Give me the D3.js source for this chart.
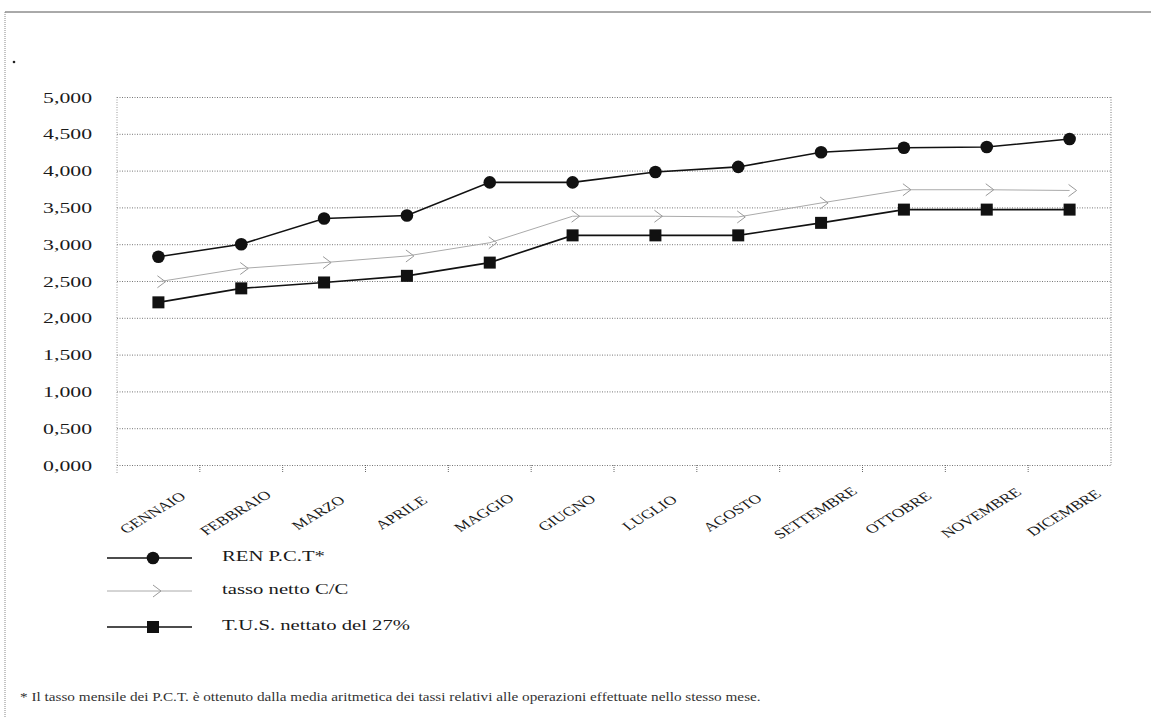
<html>
<head>
  <script src="https://unpkg.com/d3@7/dist/d3.min.js"></script>
  <style>
    body { margin: 0; background: #fff; }
    text { font-family: "Liberation Serif", "DejaVu Serif", serif; fill: #1a1a1a; }
  </style>
</head>
<body>
  <svg id="container" width="1151" height="717"></svg>
</body>

<script>
    const months = ['GENNAIO', 'FEBBRAIO', 'MARZO', 'APRILE', 'MAGGIO', 'GIUGNO',
                    'LUGLIO', 'AGOSTO', 'SETTEMBRE', 'OTTOBRE', 'NOVEMBRE', 'DICEMBRE'];
    const renPct = [2.83, 3.00, 3.35, 3.39, 3.84, 3.84, 3.98, 4.05, 4.25, 4.31, 4.32, 4.43];
    const tassoNetto = [2.49, 2.67, 2.75, 2.84, 3.02, 3.38, 3.38, 3.37, 3.56, 3.74, 3.74, 3.73];
    const tusNettato = [2.21, 2.40, 2.48, 2.57, 2.75, 3.12, 3.12, 3.12, 3.29, 3.47, 3.47, 3.47];
    const yTicks = [0, 0.5, 1, 1.5, 2, 2.5, 3, 3.5, 4, 4.5, 5];
    const seriesNames = ['REN P.C.T*', 'tasso netto C/C', 'T.U.S. nettato del 27%'];
    const footnote = '* Il tasso mensile dei P.C.T. è ottenuto dalla media aritmetica dei tassi relativi alle operazioni effettuate nello stesso mese.';

    const series = [
      {name: seriesNames[0], values: renPct, color: '#111', width: 1.6, marker: 'circle'},
      {name: seriesNames[1], values: tassoNetto, color: '#aaa', width: 1, marker: 'arrow'},
      {name: seriesNames[2], values: tusNettato, color: '#111', width: 1.6, marker: 'square'}
    ];

    const svg = d3.select('#container');

    const plotLeft = 117, plotRight = 1111, plotTop = 97, plotBottom = 465;
    // la scansione e' stirata in orizzontale
    const stretch = 1.45;

    // cornice della pagina
    svg.append('line').attr('x1', 5).attr('x2', 1151).attr('y1', 12).attr('y2', 12)
      .attr('stroke', '#555').attr('stroke-width', 1);
    svg.append('line').attr('x1', 5).attr('x2', 5).attr('y1', 12).attr('y2', 717)
      .attr('stroke', '#888').attr('stroke-dasharray', '1,1');
    svg.append('circle').attr('cx', 14).attr('cy', 62).attr('r', 1.3).attr('fill', '#222');

    const xScale = d3.scaleBand()
      .range([plotLeft, plotRight])
      .domain(months);

    const yScale = d3.scaleLinear()
      .range([plotBottom, plotTop])
      .domain([0, 5]);

    const loc = d3.formatLocale({decimal: ',', thousands: '.', grouping: [3], currency: ['', '']});
    const fmt = loc.format('.3f');

    // griglia orizzontale
    const grid = svg.append('g')
      .attr('transform', `translate(${plotLeft}, 0)`)
      .call(d3.axisLeft(yScale).tickValues(yTicks).tickSize(-(plotRight - plotLeft)).tickFormat(''));
    grid.select('.domain').remove();
    grid.selectAll('line').attr('stroke', '#777').attr('stroke-dasharray', '1,1.5');

    // etichette asse y
    svg.append('g').selectAll('text')
      .data(yTicks)
      .join('text')
      .attr('transform', d => `translate(92, ${yScale(d) + 5.5}) scale(${stretch}, 1)`)
      .attr('text-anchor', 'end')
      .attr('font-size', 15)
      .text(d => fmt(d));

    svg.append('line').attr('x1', plotLeft).attr('x2', plotLeft).attr('y1', plotTop).attr('y2', plotBottom + 8)
      .attr('stroke', '#999').attr('stroke-dasharray', '1,1.5');
    svg.append('line').attr('x1', plotRight).attr('x2', plotRight).attr('y1', plotTop).attr('y2', plotBottom)
      .attr('stroke', '#777').attr('stroke-dasharray', '1,1.5');

    // tacche asse x ai confini di categoria
    svg.append('g').selectAll('line')
      .data(months.slice(1))
      .join('line')
      .attr('x1', d => xScale(d)).attr('x2', d => xScale(d))
      .attr('y1', plotBottom).attr('y2', plotBottom + 8)
      .attr('stroke', '#666').attr('stroke-dasharray', '1,1');

    svg.append('g').selectAll('text')
      .data(months)
      .join('text')
      .attr('transform', d => `translate(${xScale(d) + xScale.bandwidth() / 2 - 2}, 516) scale(1.4, 1) rotate(-40)`)
      .attr('text-anchor', 'middle')
      .attr('font-size', 12.5)
      .text(d => d);

    const cx = d => xScale(d) + xScale.bandwidth() / 2;

    function drawMarker(g, type, color) {
      if (type === 'circle') {
        g.append('circle').attr('r', 6.3).attr('fill', color);
      } else if (type === 'square') {
        g.append('rect').attr('x', -6).attr('y', -6).attr('width', 12).attr('height', 12).attr('fill', color);
      } else {
        g.append('path').attr('d', 'M-4,-6 L4,0 L-4,6').attr('fill', 'none')
          .attr('stroke', '#999').attr('stroke-width', 1);
      }
    }

    const line = d3.line()
      .x((v, i) => cx(months[i]))
      .y(v => yScale(v));

    // le serie, la grigia sotto
    [series[1], series[2], series[0]].forEach(s => {
      svg.append('path')
        .datum(s.values)
        .attr('d', line)
        .attr('fill', 'none')
        .attr('stroke', s.color)
        .attr('stroke-width', s.width);
      svg.append('g').selectAll('g')
        .data(s.values)
        .join('g')
        .attr('transform', (v, i) => `translate(${cx(months[i]) + (s.marker === 'arrow' ? 3 : 0)}, ${yScale(v)})`)
        .each(function() { drawMarker(d3.select(this), s.marker, s.color); });
    });

    // legenda
    const legendY = [558, 591, 627];
    const legend = svg.append('g').selectAll('g')
      .data(series)
      .join('g')
      .attr('transform', (s, i) => `translate(0, ${legendY[i]})`);
    legend.append('line')
      .attr('x1', 107).attr('x2', 192)
      .attr('stroke', s => s.color)
      .attr('stroke-width', s => s.width);
    legend.append('g')
      .attr('transform', s => `translate(${s.marker === 'arrow' ? 157 : 153}, 0)`)
      .each(function(s) { drawMarker(d3.select(this), s.marker, s.color); });
    legend.append('text')
      .attr('transform', `translate(222, 3) scale(1.38, 1)`)
      .attr('font-size', 15)
      .text(s => s.name);

    svg.append('text')
      .attr('transform', 'translate(20, 701) scale(1.27, 1)')
      .attr('font-size', 12)
      .style('fill', '#333')
      .text(footnote);
</script>

</html>
